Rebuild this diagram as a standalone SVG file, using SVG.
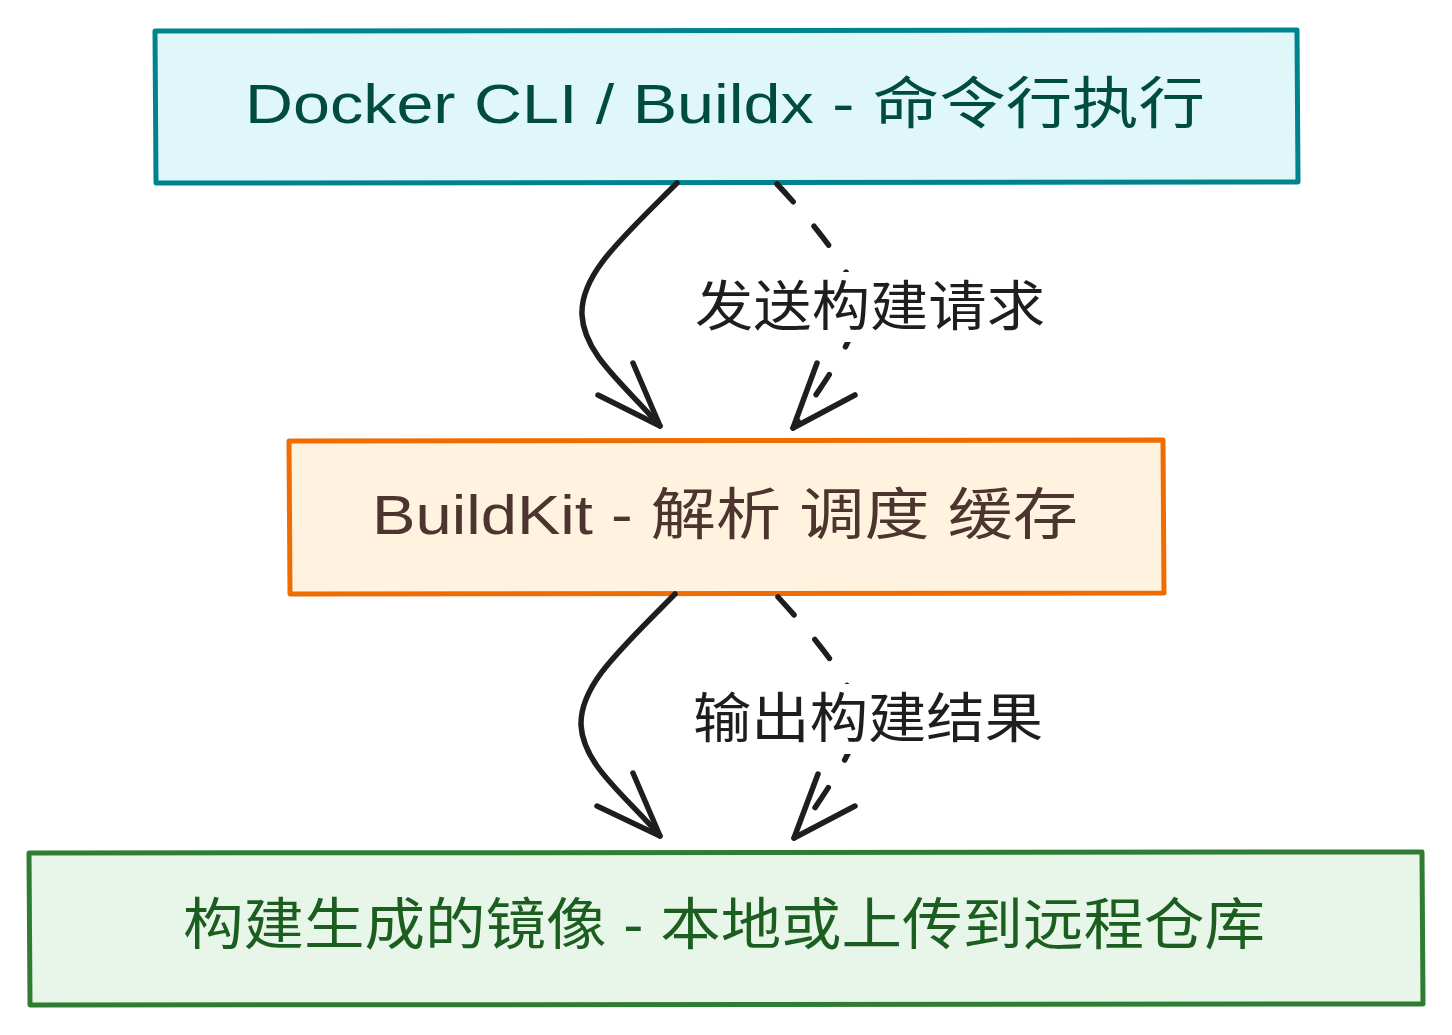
<svg xmlns="http://www.w3.org/2000/svg" width="1452" height="1035" viewBox="0 0 1452 1035">
<style>
.box{stroke-width:5;stroke-linejoin:round;stroke-linecap:round}
.t{font-family:"Liberation Sans","Noto Sans CJK SC",sans-serif;font-size:56px;text-anchor:middle}
.lbl{font-family:"Noto Sans CJK SC",sans-serif;font-size:54px;text-anchor:middle;fill:#1e1e1e}
.c{fill:none;stroke:#1e1e1e;stroke-width:5.5;stroke-linecap:round;stroke-linejoin:round}
.d{stroke-dasharray:24 32}
</style>
<rect width="1452" height="1035" fill="#ffffff"/>
<g id="node-cli">
<path class="box" fill="#e0f7fa" stroke="#00838f" d="M155 31 L1297 30 L1298 182 L156 183 Z"/>
<text class="t" x="725" y="123" fill="#004d40" textLength="960" lengthAdjust="spacingAndGlyphs">Docker CLI / Buildx - 命令行执行</text>
</g>
<g id="node-buildkit">
<path class="box" fill="#fff3e0" stroke="#ef6c00" d="M289 441 L1163 440 L1164 593 L290 594 Z"/>
<text class="t" x="725" y="534" fill="#4e342e" textLength="706" lengthAdjust="spacingAndGlyphs">BuildKit - 解析 调度 缓存</text>
</g>
<g id="node-image">
<path class="box" fill="#e8f5e9" stroke="#2e7d32" d="M29 853 L1422 852 L1423 1004 L30 1005 Z"/>
<text class="t" x="724" y="944" fill="#1b5e20" textLength="1082" lengthAdjust="spacingAndGlyphs">构建生成的镜像 - 本地或上传到远程仓库</text>
</g>
<g id="connectors">
<path class="c" d="M677 183 C620 240 580 275 582 315 C584 355 625 385 660 426"/>
<path class="c" d="M598 395 L660 426 L633 363"/>
<path class="c d" d="M777 184 C820 230 850 270 858 300 C862 330 830 375 793 428"/>
<path class="c" d="M855 395 L793 428 L817 363"/>
<path class="c" d="M675 594 C620 650 580 685 581 725 C583 765 625 795 660 836"/>
<path class="c" d="M597 806 L660 836 L633 773"/>
<path class="c d" d="M778 597 C822 645 852 685 858 712 C862 742 830 786 794 838"/>
<path class="c" d="M855 806 L794 838 L818 774"/>
<rect x="690" y="272" width="360" height="70" fill="#ffffff"/>
<text class="lbl" x="870" y="326" textLength="350" lengthAdjust="spacingAndGlyphs">发送构建请求</text>
<rect x="688" y="684" width="360" height="70" fill="#ffffff"/>
<text class="lbl" x="868" y="738" textLength="350" lengthAdjust="spacingAndGlyphs">输出构建结果</text>
</g>
</svg>
